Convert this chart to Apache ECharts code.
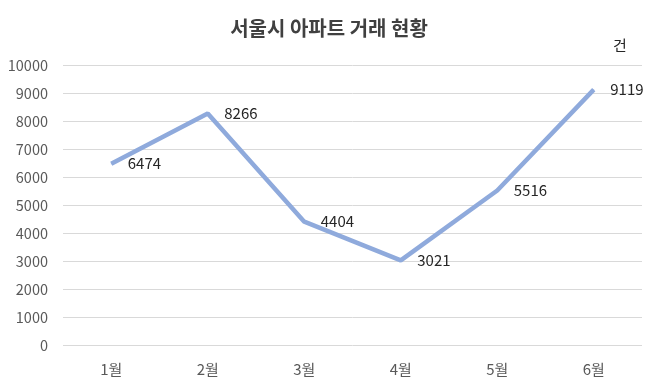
<!DOCTYPE html>
<html><head><meta charset="utf-8">
<script src="https://cdn.jsdelivr.net/npm/echarts@6/dist/echarts.min.js"></script>
<style>html,body{margin:0;padding:0;background:#fff}#c{width:658px;height:392px}</style>
</head><body><div id="c"></div>
<script>
const categories = ['1월','2월','3월','4월','5월','6월'];
const values = [6474, 8266, 4404, 3021, 5516, 9119];
const yTicks = [0,1000,2000,3000,4000,5000,6000,7000,8000,9000,10000];
const titleText = '서울시 아파트 거래 현황';
const unitText = '건';

const chart = echarts.init(document.getElementById('c'));
const font = '"Noto Sans CJK KR", "Noto Sans", sans-serif';
chart.setOption({
  animation: false,
  title: { text: titleText, left: 'center', top: 13,
    textStyle: { fontFamily: font, fontSize: 20, fontWeight: 'bold', color: '#404040' } },
  graphic: [{ type: 'text', left: 613, top: 38,
    style: { text: unitText, font: '15px ' + font, fill: '#262626' } }],
  grid: { left: 63, right: 16, top: 65, bottom: 47, containLabel: false },
  xAxis: { type: 'category', data: categories, boundaryGap: true,
    axisLine: { show: false }, axisTick: { show: false },
    axisLabel: { color: '#595959', fontSize: 15, fontFamily: font, margin: 17 } },
  yAxis: { type: 'value', min: yTicks[0], max: yTicks[yTicks.length-1], interval: 1000,
    axisLine: { show: false }, axisTick: { show: false },
    splitLine: { lineStyle: { color: '#d9d9d9', width: 1 } },
    axisLabel: { color: '#595959', fontSize: 14.5, fontFamily: font, margin: 15,
      formatter: v => String(v) } },
  series: [{ type: 'line', data: values, symbol: 'circle', symbolSize: 1, showSymbol: true,
    itemStyle: { color: '#8faadc' },
    lineStyle: { color: '#8faadc', width: 4.5 },
    label: { show: true, position: 'right', distance: 16, color: '#262626', fontSize: 15, fontFamily: font } }]
});
</script></body></html>
